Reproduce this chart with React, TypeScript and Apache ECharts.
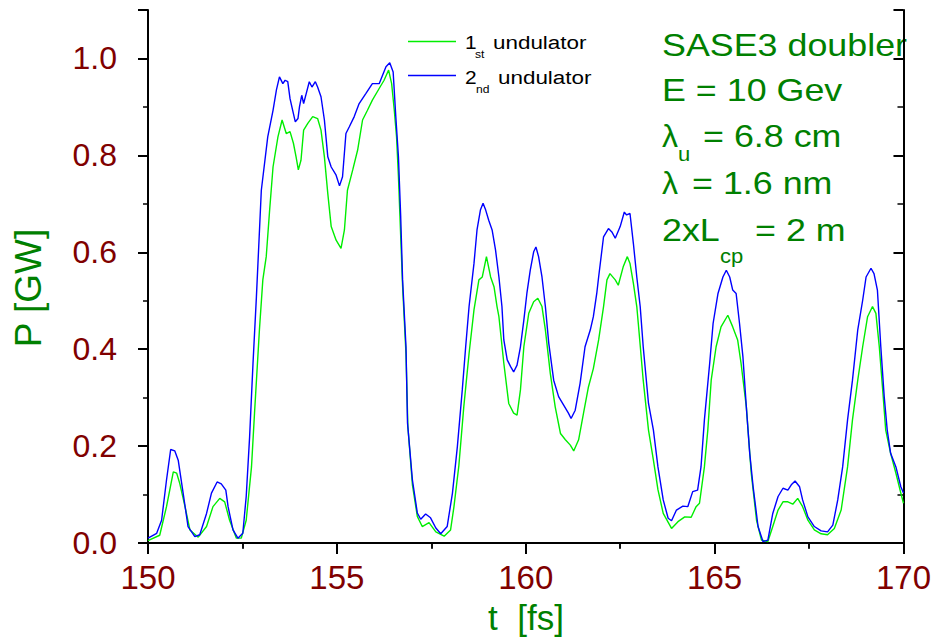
import React, { useEffect, useRef } from "react";
import * as echarts from "echarts";

// 2nd undulator (blue)
const t2nd = [
  150.0, 150.23, 150.36, 150.49, 150.6, 150.71, 150.8, 150.93, 151.06, 151.24,
  151.37, 151.55, 151.68, 151.83, 151.94, 152.06, 152.12, 152.25, 152.38, 152.51,
  152.6, 152.69, 152.78, 152.87, 153.0, 153.17, 153.31, 153.4, 153.48, 153.57,
  153.63, 153.7, 153.76, 153.83, 153.9, 153.97, 154.01, 154.07, 154.12, 154.19,
  154.27, 154.34, 154.43, 154.49, 154.58, 154.67, 154.76, 154.85, 154.98, 155.07,
  155.15, 155.24, 155.33, 155.46, 155.59, 155.77, 155.94, 156.12, 156.3, 156.4,
  156.49, 156.56, 156.63, 156.69, 156.74, 156.83, 156.87, 157.0, 157.13, 157.22,
  157.35, 157.48, 157.62, 157.75, 157.92, 158.06, 158.19, 158.32, 158.41, 158.5,
  158.63, 158.71, 158.8, 158.87, 158.94, 159.02, 159.11, 159.2, 159.29, 159.37,
  159.42, 159.51, 159.6, 159.68, 159.77, 159.86, 159.95, 160.03, 160.12, 160.21,
  160.27, 160.34, 160.43, 160.52, 160.61, 160.74, 160.87, 161.0, 161.13, 161.2,
  161.31, 161.44, 161.57, 161.71, 161.79, 161.88, 161.93, 162.06, 162.19, 162.28,
  162.37, 162.5, 162.61, 162.67, 162.76, 162.85, 162.94, 163.03, 163.11, 163.25,
  163.38, 163.5, 163.64, 163.77, 163.86, 163.99, 164.16, 164.29, 164.42, 164.55,
  164.64, 164.73, 164.87, 164.96, 165.09, 165.22, 165.31, 165.4, 165.48, 165.57,
  165.66, 165.75, 165.84, 165.93, 166.02, 166.15, 166.28, 166.41, 166.54, 166.68,
  166.81, 166.94, 167.03, 167.13, 167.25, 167.33, 167.47, 167.64, 167.82, 167.99,
  168.13, 168.26, 168.39, 168.52, 168.65, 168.79, 168.92, 169.01, 169.14, 169.22,
  169.31, 169.4, 169.49, 169.57, 169.66, 169.8, 169.93, 170.0,
];
const p2nd = [
  0.01, 0.02, 0.047, 0.13, 0.193, 0.19, 0.171, 0.103, 0.034, 0.013,
  0.017, 0.061, 0.103, 0.126, 0.122, 0.109, 0.075, 0.027, 0.01, 0.02,
  0.096, 0.219, 0.371, 0.508, 0.728, 0.838, 0.893, 0.935, 0.962, 0.948,
  0.955, 0.952, 0.917, 0.893, 0.869, 0.876, 0.9, 0.924, 0.907, 0.928,
  0.952, 0.941, 0.952, 0.941, 0.921, 0.873, 0.797, 0.776, 0.759, 0.737,
  0.756, 0.845, 0.859, 0.88, 0.907, 0.928, 0.948, 0.948, 0.983, 0.991,
  0.972, 0.88, 0.797, 0.673, 0.543, 0.405, 0.248, 0.13, 0.062, 0.049,
  0.06, 0.052, 0.031, 0.019, 0.034, 0.103, 0.199, 0.316, 0.405, 0.488,
  0.577, 0.646, 0.687, 0.701, 0.687, 0.666, 0.646, 0.605, 0.549, 0.488,
  0.419, 0.378, 0.364, 0.353, 0.367, 0.405, 0.46, 0.515, 0.563, 0.601,
  0.611, 0.591, 0.549, 0.488, 0.412, 0.336, 0.302, 0.285, 0.268, 0.257,
  0.274, 0.33, 0.405, 0.44, 0.467, 0.515, 0.549, 0.632, 0.649, 0.642,
  0.629, 0.653, 0.683, 0.677, 0.68, 0.618, 0.549, 0.488, 0.405, 0.288,
  0.233, 0.157, 0.089, 0.051, 0.046, 0.068, 0.076, 0.075, 0.106, 0.109,
  0.157, 0.254, 0.371, 0.453, 0.515, 0.549, 0.563, 0.549, 0.522, 0.515,
  0.453, 0.384, 0.281, 0.185, 0.116, 0.034, 0.003, 0.006, 0.061, 0.096,
  0.113, 0.109, 0.12, 0.128, 0.116, 0.089, 0.054, 0.034, 0.025, 0.023,
  0.037, 0.089, 0.157, 0.254, 0.336, 0.44, 0.501, 0.549, 0.567, 0.556,
  0.522, 0.405, 0.302, 0.233, 0.185, 0.157, 0.116, 0.103,
];

// 1st undulator (green)
const t1st = [
  150.0, 150.31, 150.49, 150.67, 150.76, 150.84, 150.98, 151.11, 151.33, 151.55,
  151.72, 151.9, 152.03, 152.16, 152.34, 152.47, 152.6, 152.74, 152.82, 152.95,
  153.04, 153.13, 153.22, 153.31, 153.44, 153.55, 153.66, 153.76, 153.85, 153.92,
  153.98, 154.05, 154.12, 154.23, 154.36, 154.49, 154.58, 154.67, 154.76, 154.85,
  154.98, 155.11, 155.2, 155.28, 155.42, 155.55, 155.68, 155.81, 155.94, 156.12,
  156.25, 156.37, 156.45, 156.52, 156.58, 156.63, 156.74, 156.83, 156.88, 157.0,
  157.13, 157.26, 157.44, 157.62, 157.84, 158.01, 158.1, 158.23, 158.36, 158.5,
  158.63, 158.76, 158.85, 158.96, 159.07, 159.16, 159.24, 159.29, 159.42, 159.55,
  159.68, 159.77, 159.86, 159.95, 160.08, 160.21, 160.32, 160.43, 160.52, 160.65,
  160.78, 160.92, 161.05, 161.18, 161.27, 161.4, 161.53, 161.66, 161.79, 161.93,
  162.06, 162.15, 162.23, 162.37, 162.45, 162.58, 162.69, 162.76, 162.85, 162.94,
  162.98, 163.11, 163.25, 163.38, 163.5, 163.64, 163.86, 164.03, 164.21, 164.38,
  164.51, 164.6, 164.73, 164.82, 164.91, 165.04, 165.17, 165.35, 165.48, 165.61,
  165.7, 165.84, 165.97, 166.11, 166.24, 166.41, 166.54, 166.68, 166.81, 166.94,
  167.07, 167.2, 167.33, 167.47, 167.64, 167.82, 167.99, 168.17, 168.35, 168.52,
  168.65, 168.79, 168.92, 169.05, 169.18, 169.27, 169.36, 169.45, 169.53, 169.66,
  169.8, 169.93, 170.0,
];
const p1st = [
  0.005, 0.016, 0.075, 0.147, 0.144, 0.123, 0.075, 0.027, 0.012, 0.034,
  0.075, 0.092, 0.085, 0.047, 0.01, 0.01, 0.047, 0.157, 0.268, 0.44,
  0.543, 0.591, 0.687, 0.776, 0.838, 0.873, 0.845, 0.849, 0.825, 0.797,
  0.77, 0.79, 0.852, 0.866, 0.88, 0.876, 0.852, 0.797, 0.721, 0.653,
  0.625, 0.608, 0.646, 0.728, 0.77, 0.811, 0.873, 0.893, 0.914, 0.938,
  0.955, 0.976, 0.948, 0.893, 0.838, 0.756, 0.53, 0.39, 0.24, 0.12,
  0.055, 0.034, 0.042, 0.023, 0.014, 0.027, 0.075, 0.16, 0.281, 0.391,
  0.481, 0.543, 0.549, 0.591, 0.549, 0.529, 0.488, 0.467, 0.371, 0.288,
  0.268, 0.264, 0.316, 0.405, 0.474, 0.498, 0.505, 0.488, 0.44, 0.35,
  0.281, 0.226, 0.213, 0.202, 0.19, 0.213, 0.268, 0.322, 0.36, 0.419,
  0.488, 0.543, 0.556, 0.543, 0.532, 0.57, 0.591, 0.577, 0.536, 0.488,
  0.453, 0.336, 0.233, 0.171, 0.11, 0.061, 0.03, 0.044, 0.054, 0.053,
  0.075, 0.082, 0.157, 0.233, 0.336, 0.405, 0.446, 0.47, 0.446, 0.419,
  0.371, 0.281, 0.144, 0.047, 0.006, 0.003, 0.034, 0.068, 0.085, 0.085,
  0.08, 0.092, 0.075, 0.047, 0.027, 0.019, 0.017, 0.03, 0.068, 0.157,
  0.254, 0.336, 0.405, 0.467, 0.488, 0.474, 0.405, 0.316, 0.233, 0.185,
  0.144, 0.103, 0.082,
];

const xTickLabels = ["150", "155", "160", "165", "170"];
const yTickLabels = ["0.0", "0.2", "0.4", "0.6", "0.8", "1.0"];

const FONT = "Liberation Sans, Arial, sans-serif";
const GREEN_TXT = "#008000";
const LABEL = "#800000";

function zip(t: number[], p: number[]) {
  const n = Math.min(t.length, p.length);
  const out: number[][] = [];
  for (let i = 0; i < n; i++) out.push([t[i], p[i]]);
  return out;
}

function txt(text: string, x: number, y: number, size: number, color: string, sx = 1) {
  return {
    type: "text",
    x,
    y,
    scaleX: sx,
    silent: true,
    style: {
      text,
      fontSize: size,
      fontFamily: FONT,
      fill: color,
      textAlign: "left",
      textVerticalAlign: "bottom",
      align: "left",
      verticalAlign: "bottom",
    },
  };
}

export default function App() {
  const ref = useRef<HTMLDivElement>(null);
  useEffect(() => {
    if (!ref.current) return;
    const chart = echarts.init(ref.current, undefined, { renderer: "svg" });
    const axisLine = { show: true, lineStyle: { color: "#000", width: 2 } };
    const xAxisBase = {
      type: "value",
      min: 150,
      max: 170,
      interval: 5,
      splitLine: { show: false },
      axisLine,
    };
    const yAxisBase = {
      type: "value",
      min: 0,
      max: 1.1,
      interval: 0.2,
      splitLine: { show: false },
      axisLine,
    };
    const bl = 0.21;
    const up = -3;
    const A = 32;
    const S = 20;
    const L = 19;
    const LS = 11;
    const option: any = {
      animation: false,
      backgroundColor: "#fff",
      grid: { left: 148, right: 28, top: 10, bottom: 94 },
      xAxis: [
        {
          ...xAxisBase,
          position: "bottom",
          axisTick: { show: true, length: 11, lineStyle: { color: "#000", width: 2 } },
          minorTick: { show: true, splitNumber: 2, length: 6, lineStyle: { color: "#000", width: 1.5 } },
          axisLabel: {
            color: LABEL,
            fontSize: 33,
            fontFamily: FONT,
            margin: 18,
            formatter: (v: number) => xTickLabels[Math.round((v - 150) / 5)] ?? "",
          },
        },
        {
          ...xAxisBase,
          position: "top",
          axisTick: { show: true, inside: true, length: 7, lineStyle: { color: "#000", width: 2 } },
          minorTick: { show: true, splitNumber: 2, length: 5, lineStyle: { color: "#000", width: 1.5 } },
          axisLabel: { show: false },
        },
      ],
      yAxis: [
        {
          ...yAxisBase,
          position: "left",
          axisTick: { show: true, length: 10, lineStyle: { color: "#000", width: 2 } },
          minorTick: { show: true, splitNumber: 2, length: 5, lineStyle: { color: "#000", width: 1.5 } },
          axisLabel: {
            color: LABEL,
            fontSize: 32,
            fontFamily: FONT,
            margin: 31,
            showMaxLabel: false,
            formatter: (v: number) => {
              const i = Math.round(v / 0.2);
              return Math.abs(v - i * 0.2) < 1e-6 ? yTickLabels[i] ?? "" : "";
            },
          },
        },
        {
          ...yAxisBase,
          position: "right",
          axisTick: { show: true, inside: true, length: 10, lineStyle: { color: "#000", width: 2 } },
          minorTick: { show: true, splitNumber: 2, length: 6, lineStyle: { color: "#000", width: 1.5 } },
          axisLabel: { show: false },
        },
      ],
      series: [
        {
          name: "1st undulator",
          type: "line",
          data: zip(t1st, p1st),
          showSymbol: false,
          lineStyle: { color: "#00ee00", width: 1.4 },
          itemStyle: { color: "#00ee00" },
          z: 2,
        },
        {
          name: "2nd undulator",
          type: "line",
          data: zip(t2nd, p2nd),
          showSymbol: false,
          lineStyle: { color: "#0000ff", width: 1.4 },
          itemStyle: { color: "#0000ff" },
          z: 3,
        },
      ],
      graphic: [
        // legend
        { type: "line", shape: { x1: 408, y1: 41.5, x2: 456, y2: 41.5 }, style: { stroke: "#00ee00", lineWidth: 1.4 }, silent: true },
        { type: "line", shape: { x1: 408, y1: 75.5, x2: 456, y2: 75.5 }, style: { stroke: "#0000ff", lineWidth: 1.4 }, silent: true },
        txt("1", 465, 48 + L * bl, L, "#000", 1.1),
        txt("st", 475, 57 + LS * bl, LS, "#000", 1.1),
        txt("undulator", 493, 48 + L * bl, L, "#000", 1.18),
        txt("2", 465, 83 + L * bl, L, "#000", 1.1),
        txt("nd", 476, 92 + LS * bl, LS, "#000", 1.1),
        txt("undulator", 498, 83 + L * bl, L, "#000", 1.18),
        // annotations
        txt("SASE3 doubler", 662, 57 + up + A * bl, A, GREEN_TXT, 1.12),
        txt("E = 10 Gev", 662, 102 + up + A * bl, A, GREEN_TXT, 1.12),
        txt("λ", 662, 148 + up + A * bl, A, GREEN_TXT, 1.0),
        txt("u", 678, 163 + up + S * bl, S, GREEN_TXT, 1.1),
        txt("= 6.8 cm", 703, 148 + up + A * bl, A, GREEN_TXT, 1.12),
        txt("λ", 662, 195 + up + A * bl, A, GREEN_TXT, 1.0),
        txt("= 1.6 nm", 692, 195 + up + A * bl, A, GREEN_TXT, 1.12),
        txt("2xL", 662, 242 + up + A * bl, A, GREEN_TXT, 1.12),
        txt("cp", 720, 265 + up + S * bl, S, GREEN_TXT, 1.1),
        txt("= 2 m", 755, 242 + up + A * bl, A, GREEN_TXT, 1.12),
        // axis titles
        {
          type: "text",
          x: 28,
          y: 288,
          rotation: Math.PI / 2,
          silent: true,
          style: {
            text: "P [GW]",
            fontSize: 37,
            fontFamily: FONT,
            fill: GREEN_TXT,
            textAlign: "center",
            textVerticalAlign: "middle",
            align: "center",
            verticalAlign: "middle",
          },
        },
        {
          type: "text",
          x: 526,
          y: 617,
          silent: true,
          style: {
            text: "t  [fs]",
            fontSize: 35,
            fontFamily: FONT,
            fill: GREEN_TXT,
            textAlign: "center",
            textVerticalAlign: "middle",
            align: "center",
            verticalAlign: "middle",
          },
        },
      ],
    };
    chart.setOption(option);
    return () => chart.dispose();
  }, []);
  return (
    <div
      ref={ref}
      style={{ position: "fixed", left: 0, top: 0, width: 934, height: 637, background: "#fff" }}
    />
  );
}
